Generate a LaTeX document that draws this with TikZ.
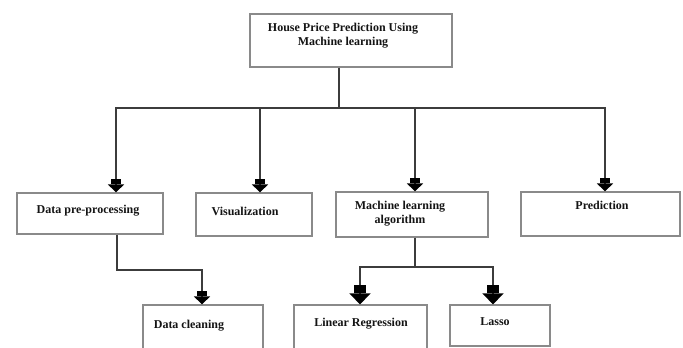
\documentclass[tikz,border=0pt]{standalone}
\usepackage{fontspec}
\setmainfont{Liberation Serif}
\usetikzlibrary{arrows.meta}
\definecolor{connc}{HTML}{3C3C3C}
\definecolor{bordc}{HTML}{8A8A8A}
\definecolor{txtc}{HTML}{141414}
\begin{document}
\begin{tikzpicture}[x=1pt,y=-1pt,
  box/.style={draw=bordc,line width=1.2pt,rectangle,inner sep=0pt},
  lbl/.style={font=\fontsize{12}{14}\selectfont\bfseries,text=txtc,inner sep=0pt,align=center},
  connl/.style={draw=connc,line width=1.6pt,line join=miter},
  arrs/.style={connl,-{Rectangle[width=10pt,length=5pt,sep=0pt,fill=black,color=black]Triangle[width=16pt,length=8pt,sep=0pt,fill=black,color=black]}},
  arrb/.style={connl,-{Rectangle[width=12pt,length=8pt,sep=0pt,fill=black,color=black]Triangle[width=21pt,length=11pt,sep=0pt,fill=black,color=black]}}
]
\useasboundingbox (0,0) rectangle (683,348);
\clip (0,0) rectangle (683,348);
\fill[white] (0,0) rectangle (683,348);

% boxes
\node[box,minimum width=202pt,minimum height=53pt] (top) at (351,40.5) {};
\node[box,minimum width=146pt,minimum height=41pt] (pre) at (90,213.5) {};
\node[box,minimum width=116pt,minimum height=43pt] (vis) at (254,214.5) {};
\node[box,minimum width=152pt,minimum height=45pt] (ml) at (412,214.5) {};
\node[box,minimum width=159pt,minimum height=44pt] (pred) at (600.5,214) {};
\node[box,minimum width=120pt,minimum height=60pt] (clean) at (203,335) {};
\node[box,minimum width=133pt,minimum height=60pt] (lr) at (360.5,335) {};
\node[box,minimum width=100pt,minimum height=41pt] (lasso) at (500,325.5) {};

% labels
\node[lbl] (ttop) at (343,36) {House Price Prediction Using\\Machine learning};
\node[lbl] (tpre) at (88,211) {Data pre-processing};
\node[lbl] (tvis) at (245,211) {Visualization};
\node[lbl] (tml) at (400,214) {Machine learning\\algorithm};
\node[lbl] (tpred) at (602,205) {Prediction};
\node[lbl] (tclean) at (189,326) {Data cleaning};
\node[lbl] (tlr) at (361,324) {Linear Regression};
\node[lbl] (tlasso) at (495,322) {Lasso};

% connectors
\coordinate (stem) at (339,108);
\coordinate (b1) at (116,108);
\coordinate (b2) at (260,108);
\coordinate (b3) at (415,108);
\coordinate (b4) at (605,108);
\draw[connl] (top.south -| stem) -- (stem);
\draw[connl,line cap=rect] (b1) -- (b4);
\draw[arrs] (b1) -- (b1 |- pre.north);
\draw[arrs] (b2) -- (b2 |- vis.north);
\draw[arrs] (b3) -- (b3 |- ml.north);
\draw[arrs] (b4) -- (b4 |- pred.north);

\coordinate (pd) at (117,270);
\coordinate (pc) at (202,270);
\draw[arrs] (pre.south -| pd) -- (pd) -- (pc) -- (pc |- clean.north);

\coordinate (mj) at (415,267);
\coordinate (ml1) at (360,267);
\coordinate (ml2) at (493,267);
\draw[connl] (ml.south -| mj) -- (mj);
\draw[arrb] (mj) -- (ml1) -- (ml1 |- lr.north);
\draw[arrb] (mj) -- (ml2) -- (ml2 |- lasso.north);
\end{tikzpicture}
\end{document}
